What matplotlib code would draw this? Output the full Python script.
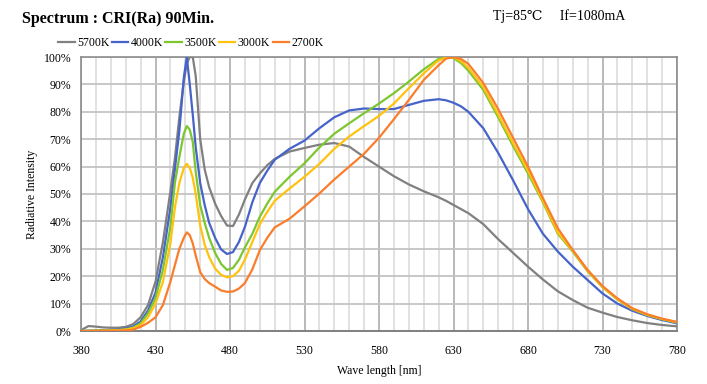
import matplotlib
matplotlib.use("Agg")
import matplotlib.pyplot as plt
from matplotlib.ticker import MultipleLocator, FuncFormatter

wavelength = [380, 385, 390, 395, 400, 405, 410, 415, 420, 425, 430, 435, 440, 443, 446, 449,
              451, 453, 455, 457, 460, 463, 466, 470, 474, 478, 482, 486, 490, 495, 500, 505,
              510, 520, 530, 540, 550, 560, 570, 580, 590, 600, 610, 620, 625, 630, 635, 640,
              650, 660, 670, 680, 690, 700, 710, 720, 730, 740, 750, 760, 770, 780]

k5700 = [0.3, 1.8, 1.6, 1.3, 1.2, 1.2, 1.5, 2.5, 5.0, 9.5, 18, 32.5, 51, 63, 78, 91,
         97.5, 100, 100, 93, 70, 59, 52.5, 46.5, 42, 38.5, 38.3, 42.5, 48, 54, 57.5, 60.5,
         62.8, 65.5, 66.8, 68, 68.6, 67.3, 63.5, 60, 56.5, 53.5, 51, 48.8, 47.5, 46, 44.5, 43,
         39, 33.5, 28.5, 23.5, 18.8, 14.5, 11.3, 8.5, 6.7, 5.1, 3.9, 2.9, 2.2, 1.7]

k4000 = [0, 0.1, 0.2, 0.3, 0.4, 0.6, 0.9, 1.6, 3.5, 7.5, 14, 27, 45, 59, 73, 92.5,
         100, 90, 79, 67, 54, 46, 39.5, 34, 29.8, 28.1, 28.8, 32.5, 38, 47, 54, 58.5,
         62.5, 66.5, 69.5, 74, 78, 80.5, 81.2, 81, 81, 82.5, 84, 84.6, 84.2, 83.3, 82, 80,
         74, 65, 55, 44.5, 35.5, 29, 23.5, 18.6, 13.7, 10, 7.4, 5.5, 4.0, 2.8]

k3500 = [0, 0.1, 0.1, 0.2, 0.3, 0.4, 0.6, 1.2, 2.8, 6.5, 12, 22.5, 38, 54, 63.5, 72,
         74.8, 73.5, 69, 58, 46, 39.5, 34, 28.5, 24.5, 22.3, 23, 26, 30.5, 35.5, 41.7, 46.5,
         50.8, 56.3, 61.2, 67, 72, 75.8, 79.5, 83, 86.8, 91, 95.5, 99.3, 100, 99.6, 97.8, 95,
         88, 78, 67.5, 57.5, 47, 35.5, 29, 21.8, 16, 11.5, 8.0, 5.8, 4.3, 3.1]

k3000 = [0, 0, 0.1, 0.1, 0.2, 0.3, 0.5, 1.0, 2.2, 5.0, 10, 18, 32, 45, 54, 59.5,
         61, 59.5, 56, 50, 38.5, 31.5, 27, 22.8, 20.5, 19.6, 20, 22, 26, 32.5, 39, 43.5,
         47.5, 52, 56.3, 61, 66.5, 71, 74.8, 78.5, 83, 88.6, 94, 98.8, 99.7, 100, 98.5, 96,
         89, 79, 68.5, 58.5, 47.5, 36, 29.3, 22, 16.1, 11.6, 8.1, 5.9, 4.4, 3.2]

k2700 = [0, 0, 0, 0, 0.1, 0.1, 0.2, 0.5, 1.5, 3.0, 5.0, 9.5, 18, 24, 30, 34,
         36, 35, 32, 27.5, 21.5, 19, 17.5, 16.2, 14.8, 14.3, 14.4, 15.5, 17.5, 22.5, 29.5, 34,
         37.8, 41, 45.5, 50.2, 55.3, 60, 64.7, 70.5, 77.3, 84.3, 91.6, 97, 99.4, 100, 99.3, 97.5,
         90.5, 81, 70.5, 60, 48.5, 37.5, 29.6, 22.3, 16.4, 11.9, 8.3, 6.1, 4.5, 3.3]

series_labels = ["5700K", "4000K", "3500K", "3000K", "2700K"]
series_values = [k5700, k4000, k3500, k3000, k2700]
colors = ["#808080", "#4563C9", "#7CC62F", "#FFC20E", "#FA7D2C"]

x_ticks = [380, 430, 480, 530, 580, 630, 680, 730, 780]

serif = ["Liberation Serif", "DejaVu Serif", "Noto Sans CJK SC"]
plt.rcParams["font.family"] = serif

fig = plt.figure(figsize=(7.07, 3.84), dpi=100)
ax = fig.add_axes([81/707, 53/384, 596/707, 274/384])

for lab, vals, c in zip(series_labels, series_values, colors):
    ax.plot(wavelength, [v/100 for v in vals], color=c, lw=1.6, label=lab,
            solid_joinstyle="round", zorder=3)

ax.set_xlim(380, 780)
ax.set_ylim(0, 1.0)
ax.set_xticks(x_ticks)
ax.set_xticklabels([str(t) for t in x_ticks])
ax.xaxis.set_minor_locator(MultipleLocator(10))
ax.yaxis.set_major_locator(MultipleLocator(0.1))
ax.yaxis.set_major_formatter(FuncFormatter(lambda v, p: f"{int(round(v*100))}%"))

ax.grid(which="minor", axis="x", color="#d9d9d9", lw=1.1, zorder=0)
ax.grid(which="major", axis="x", color="#a6a6a6", lw=1.1, zorder=0)
ax.grid(which="major", axis="y", color="#c4c4c4", lw=1.3, zorder=0)
ax.set_axisbelow(True)

for s in ["top", "right", "left"]:
    ax.spines[s].set_color("#8c8c8c")
    ax.spines[s].set_linewidth(1.2)
ax.spines["bottom"].set_color("#808080")
ax.spines["bottom"].set_linewidth(1.4)

ax.tick_params(which="both", length=0, labelsize=8.5, colors="black")
ax.tick_params(axis="x", pad=10)
ax.tick_params(axis="y", pad=7)

ax.set_xlabel("Wave length [nm]", fontsize=8.5, labelpad=6)
ax.set_ylabel("Radiative Intensity", fontsize=8.5, labelpad=4)

leg = ax.legend(loc="lower left", bbox_to_anchor=(-23/596, 1.03), ncol=5, frameon=False,
                fontsize=8.5, handlelength=1.4, handletextpad=0.2, columnspacing=0.2,
                borderaxespad=0.0, borderpad=0.0)

fig.text(22/707, 1 - 19/384, "Spectrum : CRI(Ra) 90Min.", fontsize=11.5, fontweight="bold",
         va="center", ha="left", family=serif)
fig.text(493/707, 1 - 16/384, "Tj=85℃     If=1080mA", fontsize=10,
         va="center", ha="left", family=serif)

fig.savefig("out.png", dpi=100)
